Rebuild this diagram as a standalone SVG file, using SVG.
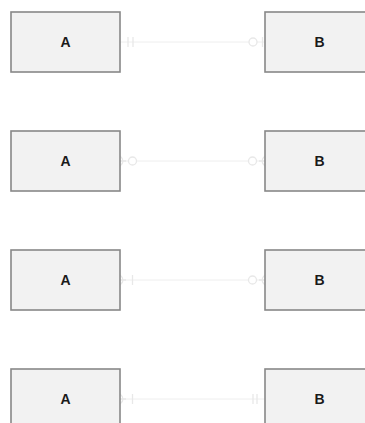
<svg xmlns="http://www.w3.org/2000/svg" width="365" height="423" viewBox="0 0 365 423">
<style>
.box{fill:#f2f2f2;stroke:#888888;stroke-width:1.6}
.lbl{font-family:"Liberation Sans",Arial,sans-serif;font-size:14px;font-weight:bold;fill:#1a1a1a;text-anchor:middle;dominant-baseline:central}
.conn{stroke:#eeeeee;stroke-width:1;fill:none}
.mk{stroke:#e8e8e8;stroke-width:1.3;fill:#ffffff}
</style>
<rect width="365" height="423" fill="#ffffff"/>
<g id="connectors">
  <g id="c1">
    <line class="conn" x1="120" y1="42" x2="265" y2="42"/>
    <path class="mk" d="M128,37 V47 M133,37 V47"/>
    <circle class="mk" cx="253" cy="42" r="4"/>
    <path class="mk" d="M262.5,37 V47"/>
  </g>
  <g id="c2">
    <line class="conn" x1="120" y1="161" x2="265" y2="161"/>
    <path class="mk" d="M120,156 Q126,161 120,166 M120,161 H126"/>
    <circle class="mk" cx="132.5" cy="161" r="4"/>
    <circle class="mk" cx="252.5" cy="161" r="4"/>
    <path class="mk" d="M265,156 Q259,161 265,166 M265,161 H259"/>
  </g>
  <g id="c3">
    <line class="conn" x1="120" y1="280" x2="265" y2="280"/>
    <path class="mk" d="M120,275 Q126,280 120,285 M120,280 H126 M132.5,275 V285"/>
    <circle class="mk" cx="252.5" cy="280" r="4"/>
    <path class="mk" d="M265,275 Q259,280 265,285 M265,280 H259"/>
  </g>
  <g id="c4">
    <line class="conn" x1="120" y1="399" x2="265" y2="399"/>
    <path class="mk" d="M120,394 Q126,399 120,404 M120,399 H126 M132.5,394 V404"/>
    <path class="mk" d="M253,394 V404 M257,394 V404"/>
  </g>
</g>
<g id="A1"><rect class="box" x="11" y="12" width="109" height="60"/><text class="lbl" x="65.5" y="42">A</text></g>
<g id="B1"><rect class="box" x="265" y="12" width="109" height="60"/><text class="lbl" x="319.5" y="42">B</text></g>
<g id="A2"><rect class="box" x="11" y="131" width="109" height="60"/><text class="lbl" x="65.5" y="161">A</text></g>
<g id="B2"><rect class="box" x="265" y="131" width="109" height="60"/><text class="lbl" x="319.5" y="161">B</text></g>
<g id="A3"><rect class="box" x="11" y="250" width="109" height="60"/><text class="lbl" x="65.5" y="280">A</text></g>
<g id="B3"><rect class="box" x="265" y="250" width="109" height="60"/><text class="lbl" x="319.5" y="280">B</text></g>
<g id="A4"><rect class="box" x="11" y="369" width="109" height="60"/><text class="lbl" x="65.5" y="399">A</text></g>
<g id="B4"><rect class="box" x="265" y="369" width="109" height="60"/><text class="lbl" x="319.5" y="399">B</text></g>
</svg>
